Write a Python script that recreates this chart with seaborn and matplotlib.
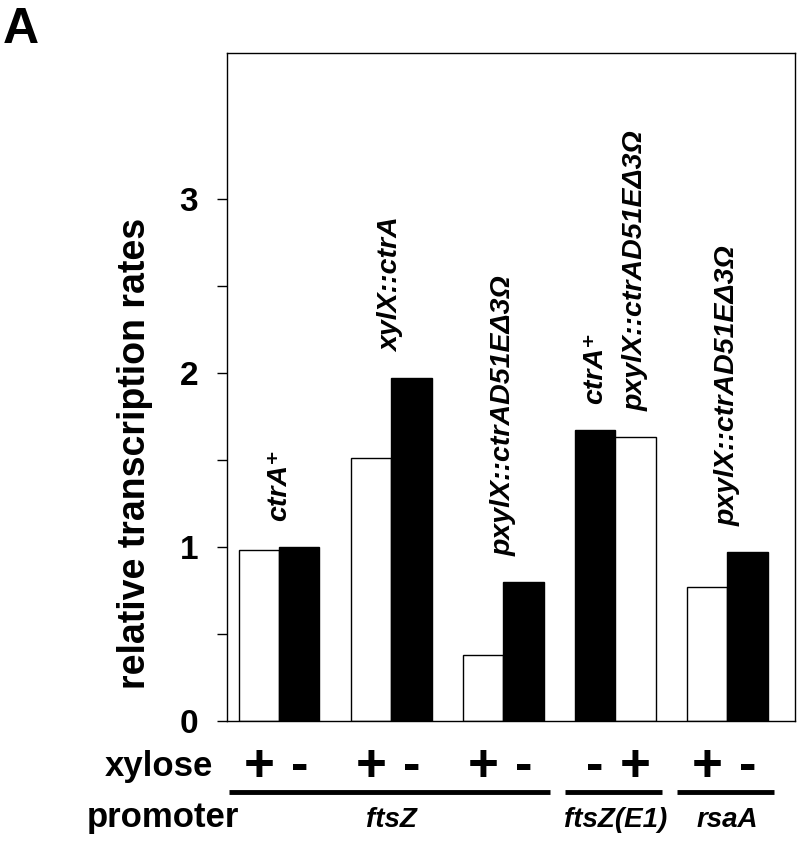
import numpy as np
import pandas as pd
import matplotlib.pyplot as plt
import matplotlib.transforms as mtransforms
import seaborn as sns

# one pair of bars per strain / promoter combination
groups = ["ctrA+ / ftsZ", "xylX::ctrA / ftsZ", "pxylX::ctrAD51E / ftsZ", "ctrA+ / ftsZ(E1)", "pxylX::ctrAD51E / rsaA"]
first_values = [0.98, 1.51, 0.38, 1.67, 0.77]
second_values = [1.00, 1.97, 0.80, 1.63, 0.97]
first_xylose = ["+", "+", "+", "-", "+"]
second_xylose = ["-", "-", "-", "+", "-"]

# promoter row under the xylose signs
promoters = ["ftsZ", "ftsZ(E1)", "rsaA"]
promoter_first_group = [0, 3, 4]
promoter_last_group = [2, 3, 4]

# rotated strain labels above the bars
strain_labels = ["ctrA⁺", "xylX::ctrA", "pxylX::ctrAD51EΔ3Ω", "ctrA⁺", "pxylX::ctrAD51EΔ3Ω", "pxylX::ctrAD51EΔ3Ω"]
label_group = [0, 1, 2, 3, 3, 4]
label_bar = ["pair", "pair", "pair", "first", "second", "pair"]

yticks = [0, 0.5, 1, 1.5, 2, 2.5, 3]
ytick_labels = ["0", "", "1", "", "2", "", "3"]

sns.set_style("white")
plt.rcParams["font.family"] = ["Liberation Sans", "DejaVu Sans"]
plt.rcParams["text.color"] = "black"
plt.rcParams["ytick.color"] = "black"
plt.rcParams["axes.labelcolor"] = "black"

df = pd.DataFrame({
    "group": groups * 2,
    "slot": ["first"] * len(groups) + ["second"] * len(groups),
    "value": first_values + second_values,
    "xylose": first_xylose + second_xylose,
})

fig = plt.figure(figsize=(8, 8.51), dpi=100)
ax = fig.add_axes([0.284, 0.153, 0.71, 0.785])

sns.barplot(data=df, x="group", y="value", hue="slot", order=groups,
            hue_order=["first", "second"], width=0.72, gap=0,
            palette=["white", "white"], edgecolor="black", linewidth=1.0,
            legend=False, ax=ax)

# white = with xylose (+), black = without (-)
for container, signs in zip(ax.containers, [first_xylose, second_xylose]):
    for bar, s in zip(container, signs):
        bar.set_facecolor("white" if s == "+" else "black")

half = 0.18
ax.set_xlim(-0.464, 4.607)
ax.set_ylim(0, 3.84)
ax.set_xticks([])
ax.set_xlabel("")
ax.set_ylabel("")
ax.set_yticks(yticks)
ax.set_yticklabels(ytick_labels, fontsize=24, fontweight="bold")
ax.tick_params(axis="y", direction="out", length=7, width=1.0, pad=14, left=True,
               colors="black")
for sp in ax.spines.values():
    sp.set_visible(True)
    sp.set_color("black")
    sp.set_linewidth(1.0)

# strain labels
for text, g, which in zip(strain_labels, label_group, label_bar):
    if which == "pair":
        x = g
        top = max(first_values[g], second_values[g])
    elif which == "first":
        x = g - half
        top = first_values[g]
    else:
        x = g + half
        top = second_values[g]
    ax.text(x, top + 0.15, text, rotation=90, ha="center", va="bottom",
            fontsize=20.5, fontweight="bold", fontstyle="italic")

ax.text(-0.162, 0.40, "relative transcription rates", transform=ax.transAxes,
        rotation=90, ha="center", va="center", fontsize=27, fontweight="bold")

# xylose row, bars underline and promoter row below the axes
trans = mtransforms.blended_transform_factory(ax.transData, ax.transAxes)
for g in range(len(groups)):
    ax.text(g - half, -0.069, first_xylose[g], transform=trans, ha="center",
            va="center", fontsize=38, fontweight="bold")
    ax.text(g + half, -0.069, second_xylose[g], transform=trans, ha="center",
            va="center", fontsize=38, fontweight="bold")

for name, g0, g1 in zip(promoters, promoter_first_group, promoter_last_group):
    ax.plot([g0 - 0.45, g1 + 0.42], [-0.107, -0.107], transform=trans,
            color="black", lw=3.5, clip_on=False, solid_capstyle="butt")
    ax.text((g0 + g1) / 2, -0.159, name, transform=trans, ha="center",
            va="baseline", fontsize=20, fontweight="bold", fontstyle="italic")

ax.text(-0.121, -0.069, "xylose", transform=ax.transAxes, ha="center",
        va="center", fontsize=25, fontweight="bold")
ax.text(-0.113, -0.159, "promoter", transform=ax.transAxes, ha="center",
        va="baseline", fontsize=25, fontweight="bold")

fig.text(0.004, 0.992, "A", ha="left", va="top", fontsize=36, fontweight="bold")

plt.savefig("out.png", dpi=100)
plt.close(fig)
